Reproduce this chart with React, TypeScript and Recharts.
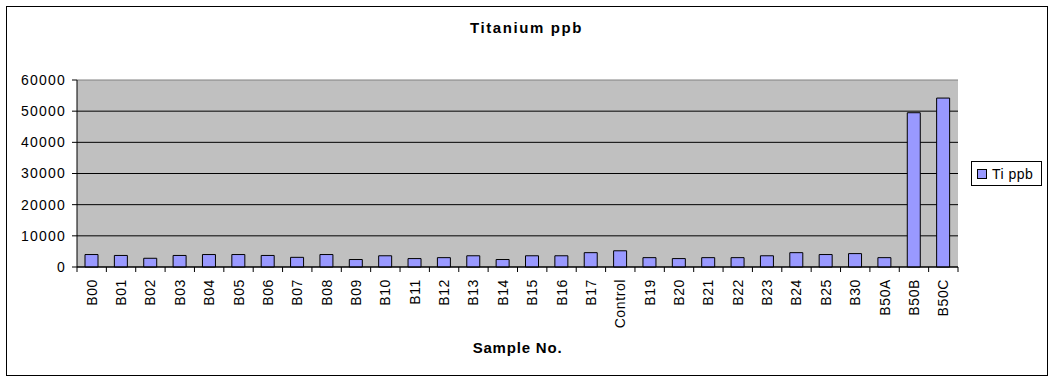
import { BarChart, Bar, XAxis, YAxis, CartesianGrid } from "recharts";

const samples = [
  "B00", "B01", "B02", "B03", "B04", "B05", "B06", "B07", "B08", "B09",
  "B10", "B11", "B12", "B13", "B14", "B15", "B16", "B17", "Control", "B19",
  "B20", "B21", "B22", "B23", "B24", "B25", "B30", "B50A", "B50B", "B50C",
];
const tiPpb = [
  4000, 3700, 2800, 3700, 4000, 4000, 3700, 3100, 4000, 2400,
  3600, 2700, 3000, 3600, 2400, 3600, 3600, 4600, 5200, 3000,
  2700, 3000, 3000, 3600, 4600, 4000, 4300, 3000, 49500, 54200,
];
const yTicks = [0, 10000, 20000, 30000, 40000, 50000, 60000];

const data = samples.map((s, i) => ({ sample: s, ti: tiPpb[i] }));

const FONT = "'Liberation Sans', Arial, sans-serif";
const PLOT_W = 881;
const BAND = PLOT_W / samples.length;

function SampleTick(props: any) {
  const { x, y, payload, index } = props;
  const left = x - BAND / 2;
  return (
    <g>
      <line x1={left} y1={y - 8} x2={left} y2={y - 3} stroke="#000" />
      {index === samples.length - 1 && (
        <line x1={x + BAND / 2} y1={y - 8} x2={x + BAND / 2} y2={y - 3} stroke="#000" />
      )}
      <text
        x={0}
        y={0}
        transform={`translate(${x + 5},${y + 4}) rotate(-90)`}
        textAnchor="end"
        fontSize={14}
        letterSpacing={0.6}
        fontFamily={FONT}
        fill="#000"
      >
        {payload.value}
      </text>
    </g>
  );
}

function GridLine(props: any) {
  const { x1, x2, y1, y2, index } = props;
  const top = y1 < 82;
  return (
    <line
      key={`h-${index}-${y1}`}
      x1={x1}
      x2={x2}
      y1={y1}
      y2={y2}
      stroke={top ? "#808080" : "#000"}
      strokeWidth={1}
    />
  );
}

export default function App() {
  return (
    <div style={{ position: "absolute", left: 0, top: 0, width: 1053, height: 380, background: "#fff", fontFamily: FONT }}>
      <div
        style={{
          position: "absolute",
          left: 6,
          top: 6,
          width: 1040,
          height: 368,
          border: "1px solid #000",
        }}
      />
      <div
        style={{
          position: "absolute",
          left: 0,
          width: 1053,
          top: 19,
          textAlign: "center",
          fontSize: 15,
          fontWeight: "bold",
          letterSpacing: 1.6,
        }}
      >
        Titanium ppb
      </div>
      <BarChart
        width={1053}
        height={380}
        data={data}
        barSize={13}
        margin={{ top: 80, right: 95, bottom: 63, left: 17 }}
        style={{ position: "absolute", left: 0, top: 0 }}
      >
        <CartesianGrid
          vertical={false}
          fill="#C0C0C0"
          fillOpacity={1}
          horizontal={(p: any) => <GridLine {...p} />}
        />
        <XAxis
          dataKey="sample"
          interval={0}
          height={50}
          tickLine={false}
          axisLine={{ stroke: "#000" }}
          tick={(p: any) => <SampleTick {...p} />}
          label={{
            value: "Sample No.",
            position: "insideBottom",
            offset: -36,
            style: { fontSize: 15, fontWeight: "bold", fill: "#000", fontFamily: FONT, letterSpacing: 0.8 },
          }}
        />
        <YAxis
          domain={[0, 60000]}
          ticks={yTicks}
          width={60}
          interval={0}
          axisLine={{ stroke: "#000" }}
          tickLine={{ stroke: "#000" }}
          tickSize={5}
          tickMargin={6}
          tick={{ fontSize: 14, fill: "#000", fontFamily: FONT, letterSpacing: 1.2 }}
        />
        <YAxis
          yAxisId="frame"
          orientation="right"
          width={0}
          tick={false}
          tickLine={false}
          axisLine={{ stroke: "#808080" }}
        />
        <Bar dataKey="ti" name="Ti ppb" fill="#9999FF" stroke="#000" strokeWidth={1} isAnimationActive={false} />
      </BarChart>
      <div
        style={{
          position: "absolute",
          left: 971,
          top: 161,
          width: 69,
          height: 23,
          border: "1px solid #000",
          display: "flex",
          alignItems: "center",
          fontSize: 14,
          letterSpacing: 0.5,
          background: "#fff",
        }}
      >
        <span
          style={{
            display: "inline-block",
            width: 8,
            height: 8,
            marginLeft: 5,
            marginRight: 5,
            background: "#9999FF",
            border: "1px solid #000",
          }}
        />
        Ti ppb
      </div>
    </div>
  );
}
